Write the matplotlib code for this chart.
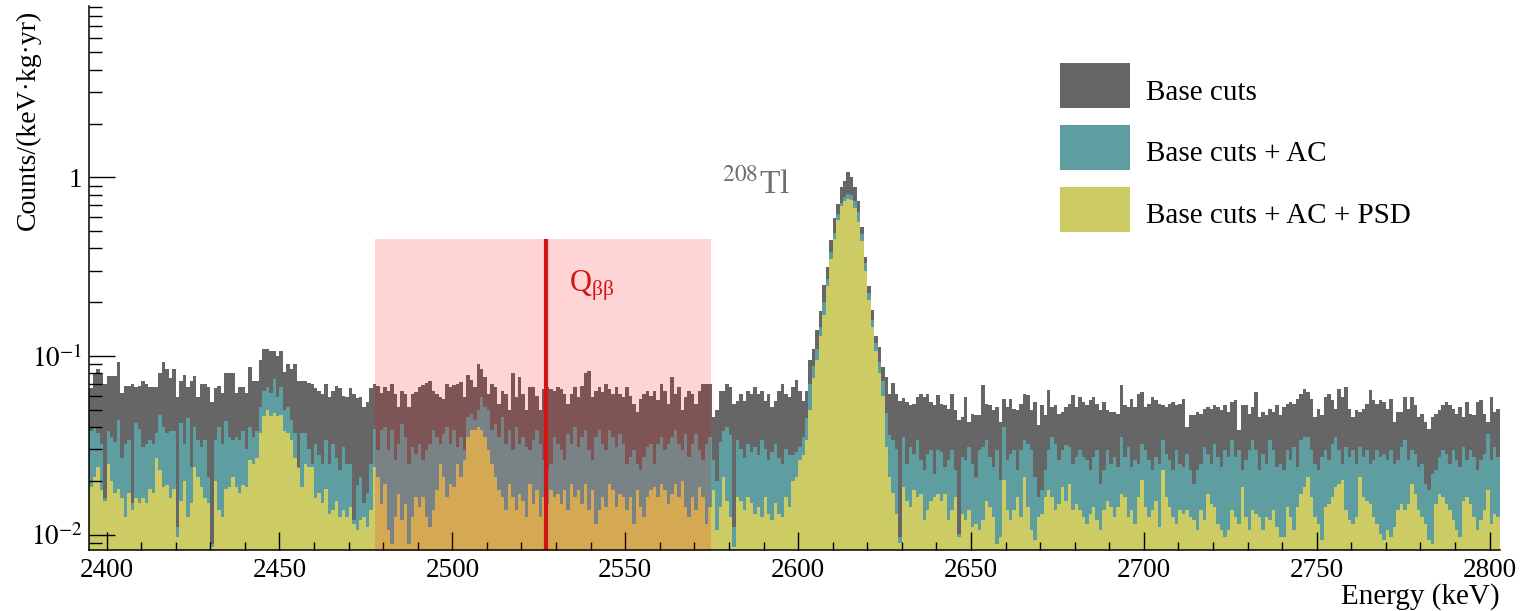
import numpy as np
import matplotlib
matplotlib.use("Agg")
import matplotlib.pyplot as plt
from matplotlib.patches import Rectangle
from matplotlib.ticker import MultipleLocator, LogLocator, FuncFormatter, NullFormatter

plt.rcParams['font.family'] = ['Liberation Serif', 'DejaVu Serif']
plt.rcParams['mathtext.fontset'] = 'stix'

# ---------------- data (1 keV bins starting at 2395 keV) ----------------
bin_start = 2395

base_cuts = np.array([
    0.066, 0.080, 0.085, 0.080, 0.070, 0.077, 0.077, 0.077, 0.092, 0.062,
    0.068, 0.068, 0.070, 0.067, 0.068, 0.072, 0.070, 0.067, 0.067, 0.067,
    0.080, 0.092, 0.085, 0.075, 0.085, 0.059, 0.072, 0.078, 0.067, 0.072,
    0.077, 0.059, 0.070, 0.070, 0.067, 0.055, 0.066, 0.068, 0.062, 0.080,
    0.080, 0.080, 0.062, 0.067, 0.067, 0.062, 0.087, 0.072, 0.072, 0.095,
    0.110, 0.110, 0.107, 0.107, 0.100, 0.107, 0.081, 0.090, 0.085, 0.090,
    0.072, 0.072, 0.072, 0.071, 0.070, 0.066, 0.064, 0.061, 0.070, 0.059,
    0.064, 0.068, 0.066, 0.060, 0.059, 0.066, 0.061, 0.058, 0.059, 0.052,
    0.055, 0.066, 0.070, 0.068, 0.062, 0.067, 0.064, 0.070, 0.0615, 0.052,
    0.064, 0.0615, 0.052, 0.0615, 0.063, 0.067, 0.0684, 0.071, 0.072, 0.064,
    0.0615, 0.059, 0.0577, 0.070, 0.067, 0.0684, 0.070, 0.0714, 0.059, 0.078,
    0.073, 0.067, 0.090, 0.085, 0.076, 0.0615, 0.070, 0.067, 0.054, 0.064,
    0.0615, 0.0496, 0.080, 0.059, 0.076, 0.0615, 0.0496, 0.067, 0.067, 0.060,
    0.0496, 0.0656, 0.067, 0.0656, 0.064, 0.067, 0.0656, 0.0615, 0.054, 0.0615,
    0.067, 0.059, 0.068, 0.080, 0.082, 0.059, 0.064, 0.067, 0.063, 0.070,
    0.0656, 0.0615, 0.067, 0.0615, 0.059, 0.067, 0.060, 0.054, 0.0485, 0.0577,
    0.0615, 0.064, 0.060, 0.064, 0.0564, 0.070, 0.064, 0.054, 0.076, 0.0615,
    0.067, 0.0496, 0.059, 0.064, 0.0615, 0.054, 0.064, 0.070, 0.070, 0.070,
    0.0455, 0.050, 0.064, 0.064, 0.070, 0.067, 0.054, 0.056, 0.061, 0.056,
    0.064, 0.061, 0.067, 0.061, 0.064, 0.056, 0.061, 0.052, 0.056, 0.064,
    0.070, 0.061, 0.059, 0.067, 0.073, 0.064, 0.056, 0.064, 0.0945, 0.110,
    0.139, 0.178, 0.250, 0.315, 0.444, 0.590, 0.710, 0.880, 0.960, 1.070,
    1.000, 0.880, 0.740, 0.527, 0.360, 0.245, 0.180, 0.130, 0.112, 0.087,
    0.076, 0.061, 0.071, 0.061, 0.056, 0.058, 0.055, 0.053, 0.054, 0.059,
    0.0615, 0.059, 0.0615, 0.0552, 0.0529, 0.0602, 0.054, 0.0529, 0.0507, 0.0615,
    0.0496, 0.0436, 0.0455, 0.0589, 0.0427, 0.0475, 0.0465, 0.0465, 0.0684, 0.054,
    0.0529, 0.0496, 0.0518, 0.0427, 0.0577, 0.0518, 0.0577, 0.0507, 0.0496, 0.054,
    0.0615, 0.0602, 0.0496, 0.0552, 0.0409, 0.0529, 0.0465, 0.0642, 0.0518, 0.0529,
    0.0475, 0.0485, 0.0518, 0.054, 0.0602, 0.0518, 0.0589, 0.0552, 0.0529, 0.0564,
    0.0589, 0.054, 0.0496, 0.0552, 0.050, 0.0485, 0.0485, 0.0475, 0.0684, 0.0529,
    0.0518, 0.0577, 0.0518, 0.0615, 0.0628, 0.0518, 0.054, 0.0589, 0.0564, 0.054,
    0.0529, 0.0518, 0.054, 0.0552, 0.0529, 0.054, 0.0577, 0.040, 0.0465, 0.0465,
    0.0485, 0.0475, 0.0507, 0.0518, 0.0507, 0.0529, 0.0518, 0.050, 0.0529, 0.0485,
    0.0552, 0.0564, 0.0384, 0.0529, 0.0529, 0.0475, 0.0518, 0.0628, 0.0455, 0.0485,
    0.0465, 0.0507, 0.0485, 0.0529, 0.0465, 0.0518, 0.054, 0.0552, 0.054, 0.0577,
    0.0615, 0.0656, 0.0628, 0.0577, 0.0455, 0.0507, 0.0465, 0.0589, 0.0615, 0.0564,
    0.0507, 0.0656, 0.0589, 0.067, 0.0507, 0.0455, 0.0496, 0.0485, 0.0507, 0.054,
    0.0642, 0.0564, 0.054, 0.0564, 0.0552, 0.0507, 0.0577, 0.0427, 0.0485, 0.0485,
    0.0589, 0.0507, 0.0589, 0.0529, 0.0455, 0.0475, 0.0427, 0.0392, 0.0455, 0.0475,
    0.0496, 0.0529, 0.0552, 0.0529, 0.0507, 0.0475, 0.0518, 0.0455, 0.0552, 0.0475,
    0.0465, 0.0552, 0.0564, 0.0475, 0.0427, 0.0589, 0.0485, 0.0507,
])

base_ac = np.array([
    0.038, 0.040, 0.037, 0.032, 0.016, 0.038, 0.035, 0.033, 0.044, 0.027,
    0.032, 0.034, 0.015, 0.042, 0.039, 0.031, 0.032, 0.034, 0.032, 0.037,
    0.047, 0.040, 0.037, 0.038, 0.038, 0.011, 0.042, 0.032, 0.045, 0.024,
    0.040, 0.034, 0.031, 0.034, 0.021, 0.0089, 0.034, 0.040, 0.032, 0.043,
    0.035, 0.034, 0.035, 0.034, 0.038, 0.030, 0.040, 0.035, 0.038, 0.052,
    0.064, 0.067, 0.062, 0.074, 0.059, 0.067, 0.050, 0.052, 0.044, 0.037,
    0.024, 0.037, 0.037, 0.030, 0.025, 0.032, 0.028, 0.025, 0.034, 0.025,
    0.032, 0.027, 0.023, 0.031, 0.025, 0.025, 0.012, 0.019, 0.021, 0.015,
    0.017, 0.025, 0.039, 0.0296, 0.0383, 0.040, 0.0296, 0.0383, 0.0261, 0.0323,
    0.0418, 0.0352, 0.0249, 0.0309, 0.0284, 0.0323, 0.0261, 0.0296, 0.0323, 0.0383,
    0.0352, 0.0323, 0.0367, 0.040, 0.0323, 0.0383, 0.0309, 0.0352, 0.0296, 0.0455,
    0.0475, 0.0436, 0.0496, 0.0589, 0.0518, 0.0496, 0.0383, 0.0418, 0.0352, 0.0455,
    0.0323, 0.0383, 0.0296, 0.040, 0.0323, 0.0352, 0.0309, 0.0296, 0.0337, 0.0383,
    0.0323, 0.0261, 0.0229, 0.0249, 0.0352, 0.0323, 0.0296, 0.0261, 0.0367, 0.0323,
    0.040, 0.0309, 0.0352, 0.0383, 0.0296, 0.0261, 0.0352, 0.0383, 0.0323, 0.0296,
    0.0383, 0.0352, 0.0309, 0.0367, 0.0323, 0.0249, 0.0272, 0.0296, 0.0249, 0.0229,
    0.0272, 0.0309, 0.0323, 0.0249, 0.0323, 0.0352, 0.0296, 0.0323, 0.0352, 0.0383,
    0.0323, 0.0296, 0.0367, 0.0272, 0.0323, 0.0367, 0.0296, 0.0261, 0.0323, 0.0352,
    0.026, 0.020, 0.033, 0.038, 0.040, 0.036, 0.011, 0.034, 0.030, 0.027,
    0.032, 0.029, 0.031, 0.028, 0.034, 0.030, 0.026, 0.029, 0.032, 0.027,
    0.025, 0.030, 0.028, 0.028, 0.029, 0.031, 0.035, 0.045, 0.070, 0.088,
    0.110, 0.145, 0.200, 0.270, 0.380, 0.490, 0.620, 0.720, 0.780, 0.810,
    0.800, 0.740, 0.640, 0.480, 0.330, 0.225, 0.160, 0.118, 0.092, 0.072,
    0.048, 0.036, 0.034, 0.030, 0.0097, 0.0352, 0.0249, 0.0309, 0.0284, 0.0337,
    0.0261, 0.0229, 0.0284, 0.0296, 0.0219, 0.0296, 0.029, 0.0239, 0.0261, 0.0296,
    0.0229, 0.0101, 0.0272, 0.0261, 0.0309, 0.0249, 0.021, 0.0296, 0.0309, 0.0337,
    0.0272, 0.0239, 0.0296, 0.0201, 0.040, 0.0261, 0.0284, 0.0296, 0.0229, 0.0296,
    0.0337, 0.0323, 0.0296, 0.021, 0.0162, 0.0177, 0.0229, 0.0296, 0.0352, 0.0323,
    0.0261, 0.0296, 0.0316, 0.0309, 0.0249, 0.0272, 0.0296, 0.0272, 0.0261, 0.0229,
    0.0272, 0.0296, 0.0193, 0.0229, 0.0296, 0.0249, 0.0272, 0.0239, 0.0352, 0.0272,
    0.0309, 0.0239, 0.0261, 0.0249, 0.0323, 0.0296, 0.0261, 0.0229, 0.0272, 0.0249,
    0.0337, 0.0284, 0.0261, 0.0229, 0.0296, 0.0249, 0.0239, 0.0284, 0.023, 0.0193,
    0.0229, 0.0249, 0.0309, 0.0284, 0.0249, 0.0323, 0.0272, 0.0239, 0.0296, 0.0272,
    0.0337, 0.0272, 0.0296, 0.0229, 0.0261, 0.0296, 0.0337, 0.0296, 0.0229, 0.0284,
    0.0249, 0.0337, 0.0296, 0.0239, 0.0249, 0.0229, 0.0296, 0.0261, 0.0309, 0.0239,
    0.0337, 0.0352, 0.035, 0.0296, 0.0249, 0.0229, 0.0272, 0.0296, 0.0261, 0.0323,
    0.0352, 0.0296, 0.0249, 0.0309, 0.0272, 0.0296, 0.0249, 0.0309, 0.0272, 0.0296,
    0.0249, 0.0261, 0.0296, 0.0272, 0.0284, 0.0261, 0.0296, 0.0249, 0.026, 0.031,
    0.0337, 0.0261, 0.0296, 0.0284, 0.0239, 0.0249, 0.0193, 0.0177, 0.0219, 0.0229,
    0.0272, 0.0296, 0.0284, 0.0249, 0.0296, 0.0261, 0.0239, 0.0309, 0.0261, 0.0296,
    0.0272, 0.0229, 0.0261, 0.0284, 0.0367, 0.0261, 0.0309, 0.0272,
])

base_ac_psd = np.array([
    0.0185, 0.021, 0.024, 0.0177, 0.0155, 0.025, 0.020, 0.017, 0.018, 0.016,
    0.0125, 0.017, 0.0137, 0.016, 0.015, 0.016, 0.015, 0.018, 0.017, 0.027,
    0.023, 0.0185, 0.019, 0.016, 0.018, 0.0097, 0.0155, 0.020, 0.0125, 0.015,
    0.024, 0.021, 0.0185, 0.016, 0.015, 0.0085, 0.020, 0.0137, 0.0125, 0.018,
    0.0185, 0.021, 0.0185, 0.017, 0.019, 0.0185, 0.026, 0.025, 0.027, 0.037,
    0.046, 0.050, 0.046, 0.048, 0.046, 0.047, 0.038, 0.037, 0.034, 0.027,
    0.0235, 0.0185, 0.025, 0.024, 0.024, 0.016, 0.017, 0.015, 0.018, 0.013,
    0.0137, 0.0155, 0.0125, 0.0137, 0.0125, 0.0143, 0.0115, 0.0106, 0.012, 0.0125,
    0.011, 0.0137, 0.024, 0.021, 0.0149, 0.0193, 0.0106, 0.0089, 0.0125, 0.0169,
    0.012, 0.0149, 0.0089, 0.0125, 0.0162, 0.0143, 0.0162, 0.0125, 0.011, 0.0137,
    0.0177, 0.0249, 0.021, 0.0162, 0.0193, 0.0185, 0.0249, 0.021, 0.0261, 0.0352,
    0.0383, 0.0383, 0.040, 0.0383, 0.0352, 0.0296, 0.0249, 0.021, 0.0177, 0.0162,
    0.0137, 0.0193, 0.0162, 0.0137, 0.0169, 0.0155, 0.0125, 0.0193, 0.0149, 0.0177,
    0.0125, 0.0162, 0.0149, 0.0177, 0.0162, 0.0169, 0.0149, 0.0177, 0.0137, 0.0193,
    0.0162, 0.0177, 0.0149, 0.0193, 0.0137, 0.0177, 0.0115, 0.0137, 0.0162, 0.0143,
    0.0193, 0.0177, 0.0143, 0.0169, 0.0162, 0.0137, 0.0162, 0.0115, 0.0177, 0.0143,
    0.0125, 0.0162, 0.0177, 0.0185, 0.0162, 0.0193, 0.0177, 0.0149, 0.0169, 0.0193,
    0.0162, 0.020, 0.0143, 0.0125, 0.0162, 0.0137, 0.0185, 0.0162, 0.0115, 0.0143,
    0.0177, 0.0106, 0.0143, 0.021, 0.0155, 0.0125, 0.0085, 0.0162, 0.0155, 0.0137,
    0.0162, 0.0150, 0.0130, 0.0143, 0.0125, 0.0162, 0.0130, 0.0120, 0.0150, 0.0130,
    0.0125, 0.0162, 0.0143, 0.020, 0.021, 0.0261, 0.028, 0.034, 0.050, 0.075,
    0.095, 0.130, 0.170, 0.245, 0.350, 0.450, 0.580, 0.690, 0.740, 0.760,
    0.745, 0.670, 0.560, 0.440, 0.300, 0.205, 0.145, 0.107, 0.080, 0.060,
    0.031, 0.021, 0.017, 0.013, 0.009, 0.0185, 0.0155, 0.0143, 0.0177, 0.0162,
    0.0169, 0.0120, 0.0137, 0.0155, 0.0162, 0.0169, 0.0155, 0.0169, 0.0120, 0.0137,
    0.0162, 0.0097, 0.0131, 0.0120, 0.0137, 0.011, 0.0115, 0.0106, 0.0120, 0.0155,
    0.0143, 0.0125, 0.0089, 0.0097, 0.0201, 0.0137, 0.0120, 0.0137, 0.0162, 0.0125,
    0.021, 0.0143, 0.0106, 0.0093, 0.0125, 0.0131, 0.0162, 0.0177, 0.0162, 0.0137,
    0.0149, 0.0185, 0.0155, 0.0193, 0.0137, 0.0149, 0.0137, 0.0125, 0.0115, 0.0131,
    0.0143, 0.0120, 0.0106, 0.0137, 0.0155, 0.0143, 0.0125, 0.0143, 0.0169, 0.0162,
    0.0125, 0.0137, 0.0115, 0.0162, 0.0201, 0.0143, 0.0125, 0.0137, 0.0155, 0.011,
    0.0229, 0.0162, 0.0143, 0.0125, 0.0115, 0.0137, 0.0131, 0.0137, 0.0125, 0.0120,
    0.0106, 0.0137, 0.0120, 0.0169, 0.0149, 0.0143, 0.0115, 0.0106, 0.0097, 0.0106,
    0.0137, 0.0125, 0.0115, 0.0185, 0.0125, 0.0106, 0.0137, 0.0131, 0.0125, 0.0106,
    0.0125, 0.0120, 0.0137, 0.011, 0.0097, 0.0097, 0.0143, 0.0125, 0.0106, 0.0143,
    0.0169, 0.0185, 0.021, 0.0162, 0.0125, 0.0115, 0.0093, 0.0143, 0.0149, 0.0162,
    0.0185, 0.0193, 0.0201, 0.0137, 0.0120, 0.0115, 0.0125, 0.021, 0.0162, 0.0155,
    0.0149, 0.0125, 0.0115, 0.0101, 0.0093, 0.0106, 0.0097, 0.011, 0.0137, 0.0149,
    0.0137, 0.0149, 0.0193, 0.0169, 0.0137, 0.0125, 0.0115, 0.0093, 0.0089, 0.0149,
    0.0169, 0.0162, 0.0149, 0.0137, 0.0120, 0.0106, 0.0097, 0.0155, 0.0162, 0.0149,
    0.0125, 0.0106, 0.0120, 0.0137, 0.0177, 0.0115, 0.0131, 0.0125,
])

series_labels = ["Base cuts", "Base cuts + AC", "Base cuts + AC + PSD"]
q_value = 2527.0
roi_low, roi_high, roi_top = 2477.6, 2574.8, 0.45
tl_label_pos = (2578.0, 0.81)
q_label_pos = (2533.8, 0.228)
x_limits = (2395, 2803)
y_limits = (0.0082, 9.1)

# ---------------- styling ----------------
c_base = "#666666"
c_ac = "#5f9ea0"
c_psd = "#cdcc64"
c_red = "#d41414"

W, H = 1528, 611
fig = plt.figure(figsize=(W / 100, H / 100), dpi=100)
ax = fig.add_axes([0.05844, 0.09984, 0.9232, 0.8903])

edges = bin_start + np.arange(len(base_cuts) + 1)
for vals, col in [(base_cuts, c_base), (base_ac, c_ac), (base_ac_psd, c_psd)]:
    ax.stairs(vals, edges, fill=True, baseline=1e-3, color=col, linewidth=0)

ax.fill_between([roi_low, roi_high], 1e-3, roi_top, color=(1.0, 0.0, 0.0), alpha=0.17,
                linewidth=0, zorder=3)
ax.vlines(q_value, 1e-3, roi_top, color=c_red, linewidth=3.0, zorder=4)

ax.text(q_label_pos[0], q_label_pos[1], r"Q$_\mathregular{ββ}$", color=c_red, fontsize=22,
        va="baseline", ha="left", zorder=5)
ax.text(tl_label_pos[0], tl_label_pos[1], r"$^{208}$Tl", color="#6e6e6e", fontsize=24,
        va="baseline", ha="left", zorder=5)

ax.set_yscale("log")
ax.set_xlim(*x_limits)
ax.set_ylim(*y_limits)

for s in ["top", "right"]:
    ax.spines[s].set_visible(False)
for s in ["left", "bottom"]:
    ax.spines[s].set_linewidth(1.1)
    ax.spines[s].set_zorder(6)

ax.xaxis.set_major_locator(MultipleLocator(50))
ax.xaxis.set_minor_locator(MultipleLocator(10))
ax.yaxis.set_major_locator(LogLocator(base=10, numticks=12))
ax.yaxis.set_minor_locator(LogLocator(base=10, subs=np.arange(2, 10), numticks=12))
ax.yaxis.set_minor_formatter(NullFormatter())


def yfmt(v, pos):
    e = int(round(np.log10(v)))
    if e == 0:
        return "1"
    return r"$10^{%d}$" % e


ax.yaxis.set_major_formatter(FuncFormatter(yfmt))

ax.tick_params(axis="x", which="major", direction="in", length=13, width=1.0,
               labelsize=19.5, pad=6)
ax.tick_params(axis="x", which="minor", direction="in", length=6, width=1.0)
ax.tick_params(axis="y", which="major", direction="in", length=19, width=1.0,
               labelsize=19.5, pad=5)
ax.tick_params(axis="y", which="minor", direction="in", length=9.5, width=1.0)
for t in ax.xaxis.get_ticklines(minor=True) + ax.xaxis.get_ticklines() + \
        ax.yaxis.get_ticklines(minor=True) + ax.yaxis.get_ticklines():
    t.set_zorder(7)

# legend (drawn manually: coloured boxes + labels), positions in figure pixels
leg_box_x, leg_box_w, leg_box_h = 1060, 70, 45
leg_box_tops = [63, 125, 187]
leg_text_x = 1146
leg_baselines = [99.5, 161, 223]
for col, top, base, lab in zip((c_base, c_ac, c_psd), leg_box_tops, leg_baselines,
                               series_labels):
    fig.patches.append(Rectangle((leg_box_x / W, 1 - (top + leg_box_h) / H),
                                 leg_box_w / W, leg_box_h / H, transform=fig.transFigure,
                                 facecolor=col, edgecolor="none"))
    fig.text(leg_text_x / W, 1 - base / H, lab, ha="left", va="baseline", fontsize=21)

fig.text(0.0183, 0.9836, "Counts/(keV\u00b7kg\u00b7yr)", rotation=90, ha="center",
         va="top", fontsize=20)
fig.text(0.9817, 0.0229, "Energy (keV)", ha="right", va="center", fontsize=21)

fig.savefig("out.png", dpi=100)
